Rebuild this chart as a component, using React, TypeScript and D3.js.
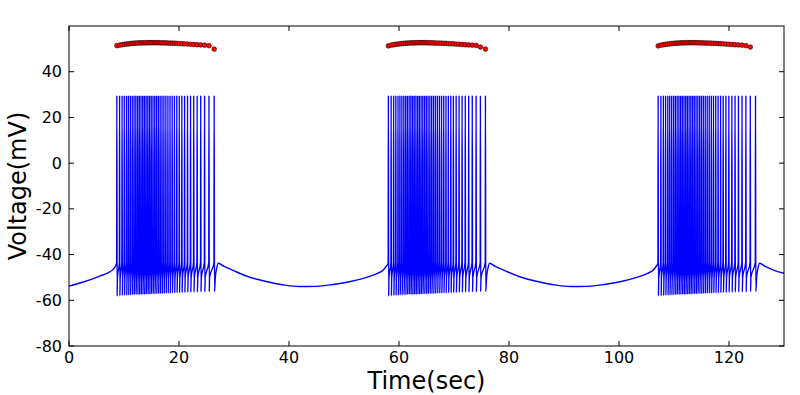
import React from "react";
import * as d3 from "d3";

// spike times (sec) of the three bursts
const burst1 = [8.7, 9.2, 9.65, 10.05, 10.45, 10.8, 11.15, 11.5, 11.83, 12.15, 12.47, 12.78, 13.09, 13.4, 13.71, 14.02, 14.33, 14.64, 14.95, 15.27, 15.59, 15.91, 16.24, 16.57, 16.91, 17.26, 17.62, 17.99, 18.37, 18.76, 19.17, 19.6, 20.05, 20.52, 21.02, 21.55, 22.1, 22.68, 23.3, 23.95, 24.65, 25.45, 26.4];
const burst2 = [58.07, 58.57, 59.02, 59.42, 59.82, 60.17, 60.52, 60.87, 61.2, 61.52, 61.84, 62.15, 62.46, 62.77, 63.08, 63.39, 63.7, 64.01, 64.32, 64.64, 64.96, 65.28, 65.61, 65.94, 66.28, 66.63, 66.99, 67.36, 67.74, 68.13, 68.54, 68.97, 69.42, 69.89, 70.39, 70.92, 71.47, 72.05, 72.67, 73.32, 74.02, 74.8, 75.72];
const burst3 = [107.12, 107.62, 108.07, 108.47, 108.87, 109.22, 109.57, 109.92, 110.25, 110.57, 110.89, 111.2, 111.51, 111.82, 112.13, 112.44, 112.75, 113.06, 113.37, 113.69, 114.01, 114.33, 114.66, 114.99, 115.33, 115.68, 116.04, 116.41, 116.79, 117.18, 117.59, 118.02, 118.47, 118.94, 119.44, 119.97, 120.52, 121.1, 121.72, 122.37, 123.07, 123.87, 124.82];

// red markers above the spikes (mV), one per spike
const dots1 = [51.4, 51.6, 51.8, 52.0, 52.1, 52.2, 52.3, 52.4, 52.45, 52.5, 52.55, 52.6, 52.6, 52.65, 52.65, 52.65, 52.7, 52.7, 52.7, 52.7, 52.7, 52.7, 52.7, 52.65, 52.65, 52.6, 52.6, 52.55, 52.5, 52.5, 52.45, 52.4, 52.3, 52.25, 52.2, 52.1, 52.0, 51.9, 51.8, 51.7, 51.6, 51.4, 49.9];
const dots2 = [51.3, 51.6, 51.8, 52.0, 52.1, 52.2, 52.3, 52.4, 52.45, 52.5, 52.55, 52.6, 52.6, 52.65, 52.65, 52.7, 52.7, 52.7, 52.7, 52.7, 52.7, 52.65, 52.65, 52.6, 52.6, 52.55, 52.5, 52.5, 52.45, 52.4, 52.4, 52.3, 52.25, 52.2, 52.1, 52.0, 51.9, 51.8, 51.7, 51.6, 51.5, 50.8, 49.9];
const dots3 = [51.3, 51.6, 51.8, 52.0, 52.1, 52.2, 52.3, 52.4, 52.45, 52.5, 52.55, 52.6, 52.6, 52.65, 52.65, 52.7, 52.7, 52.7, 52.7, 52.7, 52.7, 52.65, 52.65, 52.6, 52.6, 52.55, 52.5, 52.5, 52.45, 52.4, 52.4, 52.3, 52.25, 52.2, 52.1, 52.0, 51.9, 51.8, 51.7, 51.6, 51.4, 50.8, null];

// after-spike minimum (mV), same pattern in every burst
const troughs = [-58.1, -58.0, -57.9, -57.8, -57.8, -57.7, -57.7, -57.6, -57.6, -57.5, -57.5, -57.5, -57.4, -57.4, -57.4, -57.3, -57.3, -57.3, -57.2, -57.2, -57.2, -57.1, -57.1, -57.1, -57.0, -57.0, -56.9, -56.9, -56.9, -56.8, -56.8, -56.7, -56.7, -56.6, -56.6, -56.5, -56.5, -56.4, -56.4, -56.3, -56.3, -56.2, -56.2];
const spikePeak = 29.6;

// slow wave between bursts [t, mV]
const rest0: [number, number][] = [[0, -53.8], [2.6, -52], [5.6, -49.4], [7.45, -47.5], [8.2, -46], [8.62, -44]];
const rest1: [number, number][] = [[27.15, -43.8], [28.2, -45.2], [29.9, -47], [32.5, -49.6], [35.9, -51.8], [38.8, -53.2], [41.9, -54], [45, -53.9], [48, -53.1], [51.2, -51.8], [54.1, -50], [56, -48.3], [57.2, -46.6], [57.7, -45], [58.0, -44]];
const rest2: [number, number][] = [[76.47, -43.8], [77.5, -45.2], [79.2, -47], [81.8, -49.6], [85.2, -51.8], [88.1, -53.2], [91.2, -54], [94.3, -53.9], [97.3, -53.1], [100.4, -51.8], [103.2, -50], [105.1, -48.3], [106.3, -46.6], [106.8, -45], [107.05, -44]];
const rest3: [number, number][] = [[125.57, -43.8], [126.6, -45.2], [128.3, -47], [130, -48.2]];

const xTicks = [0, 20, 40, 60, 80, 100, 120];
const yTicks = [-80, -60, -40, -20, 0, 20, 40];

const W = 800;
const H = 395;
const margin = { top: 26, right: 16, bottom: 49, left: 69 };

function burstPoints(times: number[]): [number, number][] {
  const pts: [number, number][] = [];
  times.forEach((t, i) => {
    pts.push([t - 0.04, -43.5]);
    pts.push([t, spikePeak]);
    pts.push([t + 0.05, troughs[i]]);
    if (i < times.length - 1) {
      pts.push([t + 0.11, -50]);
    } else {
      pts.push([t + 0.2, -50]);
      pts.push([t + 0.45, -46]);
    }
  });
  return pts;
}

const App = () => {
  const iw = W - margin.left - margin.right;
  const ih = H - margin.top - margin.bottom;
  const x = d3.scaleLinear().domain([0, 130]).range([0, iw]);
  const y = d3.scaleLinear().domain([-80, 60]).range([ih, 0]);

  const trace: [number, number][] = [
    ...rest0,
    ...burstPoints(burst1),
    ...rest1,
    ...burstPoints(burst2),
    ...rest2,
    ...burstPoints(burst3),
    ...rest3,
  ];
  const line = d3
    .line<[number, number]>()
    .x((d) => x(d[0]))
    .y((d) => y(d[1]))
    .curve(d3.curveMonotoneX);

  const dots: { t: number; v: number }[] = [];
  [
    [burst1, dots1],
    [burst2, dots2],
    [burst3, dots3],
  ].forEach(([times, vals]) => {
    (times as number[]).forEach((t, i) => {
      const v = (vals as (number | null)[])[i];
      if (v != null) dots.push({ t, v });
    });
  });

  const font = "DejaVu Sans, sans-serif";
  const tl = 5;

  return (
    <svg
      width={W}
      height={H}
      style={{ position: "absolute", left: 0, top: 0, background: "#fff" }}
    >
      <g transform={`translate(${margin.left},${margin.top})`}>
        <defs>
          <clipPath id="plot-clip">
            <rect width={iw} height={ih} />
          </clipPath>
        </defs>
        <path
          d={line(trace) || ""}
          fill="none"
          stroke="#0000ff"
          strokeWidth={1.4}
          clipPath="url(#plot-clip)"
        />
        {dots.map((d, i) => (
          <circle
            key={i}
            cx={x(d.t)}
            cy={y(d.v)}
            r={2.4}
            fill="#ff0000"
            stroke="#000"
            strokeWidth={0.5}
          />
        ))}
        <rect width={iw} height={ih} fill="none" stroke="#000" strokeWidth={1} />
        {xTicks.map((t) => (
          <g key={`x${t}`} transform={`translate(${x(t)},0)`}>
            <line y1={ih} y2={ih - tl} stroke="#000" />
            <line y1={0} y2={tl} stroke="#000" />
            <text
              y={ih + 17}
              textAnchor="middle"
              fontFamily={font}
              fontSize={16}
              fill="#000"
            >
              {t}
            </text>
          </g>
        ))}
        {yTicks.map((t) => (
          <g key={`y${t}`} transform={`translate(0,${y(t)})`}>
            <line x1={0} x2={tl} stroke="#000" />
            <line x1={iw} x2={iw - tl} stroke="#000" />
            <text
              x={-7}
              dy="0.35em"
              textAnchor="end"
              fontFamily={font}
              fontSize={16}
              fill="#000"
            >
              {t}
            </text>
          </g>
        ))}
        <text
          x={iw / 2}
          y={ih + 43}
          textAnchor="middle"
          fontFamily={font}
          fontSize={24}
          fill="#000"
        >
          Time(sec)
        </text>
        <text
          transform={`translate(${26 - margin.left},${ih / 2}) rotate(-90)`}
          textAnchor="middle"
          fontFamily={font}
          fontSize={24}
          fill="#000"
        >
          Voltage(mV)
        </text>
      </g>
    </svg>
  );
};

export default App;
